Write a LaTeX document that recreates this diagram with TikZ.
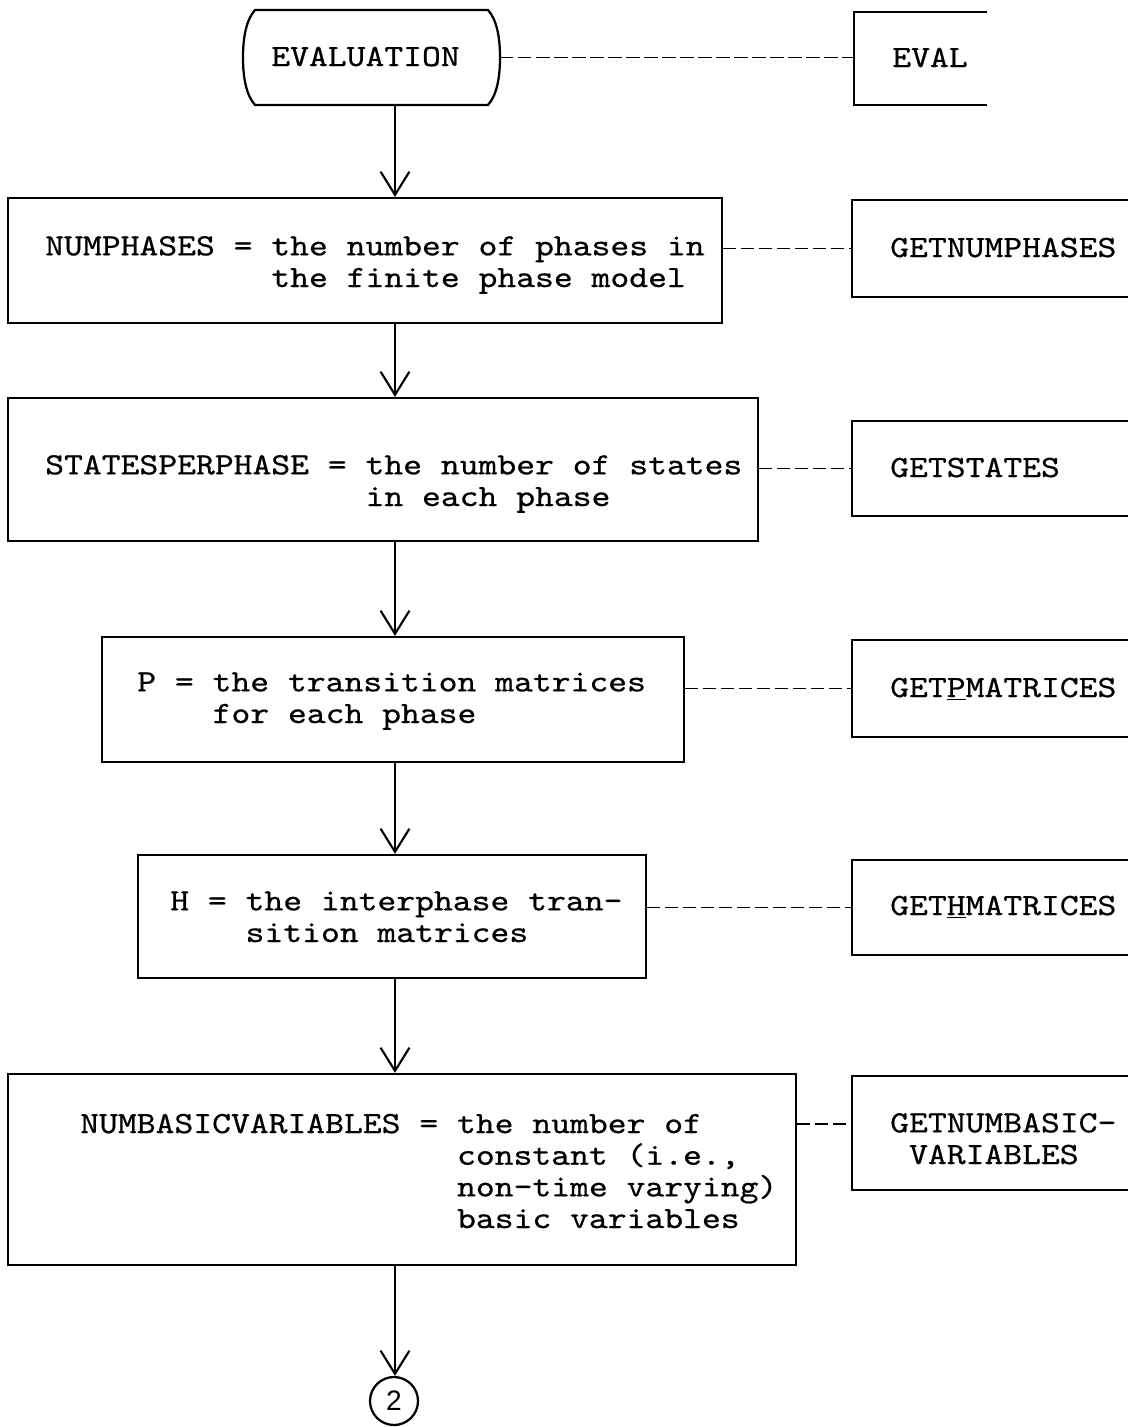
\documentclass[tikz,border=0pt]{standalone}
\usepackage{fontspec}
\newfontfamily\tw{lmmono10-regular}[Extension=.otf, FakeStretch=1.16, FakeBold=0.6]
\newfontfamily\digitfont{Liberation Sans}
\usetikzlibrary{arrows.meta}
\begin{document}
\begin{tikzpicture}[x=0.025cm,y=-0.025cm,
  box/.style={draw, line width=1.6pt, rectangle, inner sep=0pt},
  bx/.style n args={2}{minimum width=#1*0.025cm, minimum height=#2*0.025cm},
  ghost/.style={rectangle, inner sep=0pt},
  txt/.style={anchor=base west, inner sep=0pt, align=left, font=\tw\fontsize{22pt}{22.5pt}\selectfont},
  flow/.style={line width=1.5pt, -{Straight Barb[length=5.8mm,width=7.2mm,line width=1.5pt]}},
  conn/.style={line width=1.4pt, dash pattern=on 0.33cm off 0.12cm},
  outline/.style={line width=1.6pt},
]
\useasboundingbox (0,0) rectangle (1128,1427);
\fill[white] (0,0) rectangle (1128,1427);
\clip (0,0) rectangle (1128,1427);

\coordinate (ax) at (395,0);

% terminator
\node[ghost, bx={257}{95}] (term) at (371.5,57.5) {};
\draw[outline] (255,10) -- (488,10) .. controls (497,20) and (500,38) .. (500,57.5)
  .. controls (500,77) and (497,95) .. (488,105) -- (255,105)
  .. controls (246,95) and (243,77) .. (243,57.5)
  .. controls (243,38) and (246,20) .. (255,10) -- cycle;
\node[txt] (t0) at (271,66) {EVALUATION};

% EVAL box (open right)
\node[ghost, bx={133}{93}] (reval) at (920.5,58.5) {};
\draw[outline] (reval.north east) -- (reval.north west) -- (reval.south west) -- (reval.south east);
\node[txt] (te) at (892,67) {EVAL};

% main boxes
\node[box, bx={714}{125}] (b1) at (365,260.5) {};
\node[box, bx={750}{143}] (b2) at (383,469.5) {};
\node[box, bx={582}{125}] (b3) at (393,699.5) {};
\node[box, bx={508}{123}] (b4) at (392,916.5) {};
\node[box, bx={788}{191}] (b5) at (402,1169.5) {};

% (base anchor of a multi-line node = baseline of its last line)
\node[txt] (t1) at (45,287) {NUMPHASES = the number of phases in\\\phantom{NUMPHASES = }the finite phase model};
\node[txt] (t2) at (45,506) {STATESPERPHASE = the number of states\\\phantom{STATESPERPHASE = }in each phase};
\node[txt] (t3) at (137,723) {P = the transition matrices\\\phantom{P = }for each phase};
\node[txt] (t4) at (170,942) {H = the interphase tran-\\\phantom{H = }sition matrices};
\node[txt] (t5) at (80,1228) {NUMBASICVARIABLES = the number of\\\phantom{NUMBASICVARIABLES = }constant (i.e.,\\\phantom{NUMBASICVARIABLES = }non-time varying)\\\phantom{NUMBASICVARIABLES = }basic variables};

% right boxes (extend past the right edge)
\node[box, bx={288}{97}] (r1) at (996,248.5) {};
\node[box, bx={288}{95}] (r2) at (996,468.5) {};
\node[box, bx={288}{97}] (r3) at (996,688.5) {};
\node[box, bx={288}{95}] (r4) at (996,907.5) {};
\node[box, bx={288}{114}] (r5) at (996,1133) {};

\node[txt] (rt1) at (890,257) {GETNUMPHASES};
\node[txt] (rt2) at (890,477) {GETSTATES};
\node[txt] (rt3) at (890,697) {GET\underline{P}MATRICES};
\node[txt] (rt4) at (890,915) {GET\underline{H}MATRICES};
\node[txt] (rt5) at (890,1164) {GETNUMBASIC-\\\phantom{G}VARIABLES};

% connector circle
\node[circle, draw, line width=1.6pt, minimum size=48*0.025cm, inner sep=0pt,
  font=\digitfont\fontsize{20pt}{20pt}\selectfont] (c2) at (394,1401) {2};

% flow arrows
\draw[flow] (term.south -| ax) -- (b1.north -| ax);
\draw[flow] (b1.south -| ax) -- (b2.north -| ax);
\draw[flow] (b2.south -| ax) -- (b3.north -| ax);
\draw[flow] (b3.south -| ax) -- (b4.north -| ax);
\draw[flow] (b4.south -| ax) -- (b5.north -| ax);
\draw[flow] (b5.south -| ax) -- (c2.north -| ax);

% dashed links
\coordinate (d5) at (852,1124);
\draw[conn] (term.east) -- (term.east -| reval.west);
\draw[conn] (b1.east |- r1.west) -- (r1.west);
\draw[conn] (b2.east |- r2.west) -- (r2.west);
\draw[conn] (b3.east |- r3.west) -- (r3.west);
\draw[conn] (b4.east |- r4.west) -- (r4.west);
\draw[conn] (b5.east |- d5) -- (d5);
\end{tikzpicture}
\end{document}
